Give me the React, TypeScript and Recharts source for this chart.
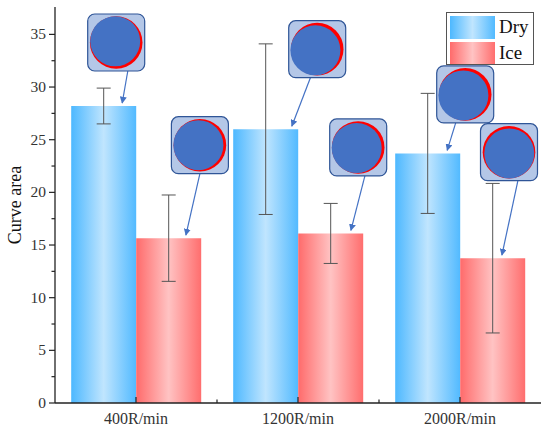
import {
    BarChart,
    Bar,
    XAxis,
    YAxis,
    ErrorBar,
    LabelList,
} from 'recharts'

const categories = ['400R/min', '1200R/min', '2000R/min']
const dryValues = [28.2, 26.0, 23.7]
const dryErrors = [1.7, 8.1, 5.7]
const iceValues = [15.65, 16.1, 13.75]
const iceErrors = [4.1, 2.85, 7.1]
const yTicks = [0, 2.5, 5, 7.5, 10, 12.5, 15, 17.5, 20, 22.5, 25, 27.5, 30, 32.5, 35]
const seriesNames = ['Dry', 'Ice']

// callout layout, pixels relative to the bar top-left
const dryCallouts = [
    { dx: 45, dy: -63.5, tipDx: 51, startDx: 11.6, bx: -1, by: -1.2 },
    { dx: 84, dy: -80, tipDx: 58.6, startDx: -6.8, bx: -1.8, by: 1.2 },
    { dx: 70, dy: -59, tipDx: 52, startDx: -9.5, bx: -1.8, by: 1 },
]
const iceCallouts = [
    { dx: 63.7, dy: -93, tipDx: 49.7, startDx: 0, bx: -1.5, by: 0 },
    { dx: 60, dy: -86, tipDx: 52.7, startDx: 6.7, bx: -1.5, by: 0.6 },
    { dx: 48.8, dy: -106, tipDx: 41.7, startDx: 8.9, bx: 0.3, by: 1.2 },
]

const data = categories.map((name, i) => ({
    name,
    dry: dryValues[i],
    dryErr: dryErrors[i],
    ice: iceValues[i],
    iceErr: iceErrors[i],
}))

const FONT = '"Liberation Serif", "Times New Roman", serif'
const AXIS = '#222'
const BOX = 57
const DRY_CSS = 'linear-gradient(to right, #4db8ff, #c0e5fe 50%, #52baff)'
const ICE_CSS = 'linear-gradient(to right, #ff6b6b, #ffc3c3 50%, #ff6e6e)'

function makeCallout(layout: typeof dryCallouts) {
    return (props: any) => {
        const vb = props.viewBox || props
        const bx = vb.x
        const by = vb.y
        const c = layout[props.index]
        if (!c || bx == null) return null
        const cx = bx + c.dx
        const cy = by + c.dy
        return (
            <g>
                <line
                    x1={cx + c.startDx}
                    y1={cy + BOX / 2}
                    x2={bx + c.tipDx}
                    y2={by - 3}
                    stroke="#4472c4"
                    strokeWidth={1.2}
                    markerEnd="url(#arrowHead)"
                />
                <rect
                    x={cx - BOX / 2}
                    y={cy - BOX / 2}
                    width={BOX}
                    height={BOX}
                    rx={7}
                    fill="#b4c7e7"
                    stroke="#2f5597"
                    strokeWidth={1.2}
                />
                <circle cx={cx} cy={cy} r={26.3} fill="#ff0000" />
                <circle cx={cx + c.bx} cy={cy + c.by} r={25} fill="#4472c4" />
            </g>
        )
    }
}

function YTick({ x, y, payload }: any) {
    const major = payload.value % 5 === 0
    return (
        <g>
            <line x1={x - (major ? 6 : 3.5)} y1={y} x2={x} y2={y} stroke={AXIS} strokeWidth={1.2} />
            {major && (
                <text x={x - 9} y={y + 5} textAnchor="end" fontSize={15.5} fontFamily={FONT} fill="#333">
                    {payload.value}
                </text>
            )}
        </g>
    )
}

function XTick({ x, y, payload, index }: any) {
    const half = payload.offset || 81
    return (
        <g>
            <line x1={x} y1={y} x2={x} y2={y - 6} stroke={AXIS} strokeWidth={1.2} />
            {index < categories.length - 1 && (
                <line x1={x + half} y1={y} x2={x + half} y2={y - 3.5} stroke={AXIS} strokeWidth={1.2} />
            )}
            <text x={x} y={y + 21} textAnchor="middle" fontSize={16} fontFamily={FONT} fill="#333">
                {payload.value}
            </text>
        </g>
    )
}

function YLabel({ viewBox }: any) {
    const cx = 15
    const cy = viewBox.y + viewBox.height / 2
    return (
        <text
            x={cx}
            y={cy}
            transform={`rotate(-90, ${cx}, ${cy})`}
            textAnchor="middle"
            dominantBaseline="central"
            fontSize={18}
            fontFamily={FONT}
            fill="#111"
        >
            Curve area
        </text>
    )
}

function LegendBox() {
    const fills = [DRY_CSS, ICE_CSS]
    return (
        <div
            style={{
                position: 'absolute',
                left: 446,
                top: 12,
                width: 88,
                height: 53,
                boxSizing: 'border-box',
                border: '1px solid #555',
                background: '#fff',
            }}
        >
            {seriesNames.map((n, i) => (
                <div key={n}>
                    <div
                        style={{
                            position: 'absolute',
                            left: 2.5,
                            top: 3 + i * 25.5,
                            width: 45,
                            height: 22.5,
                            background: fills[i],
                        }}
                    />
                    <div
                        style={{
                            position: 'absolute',
                            left: 52,
                            top: 2 + i * 25.5,
                            fontFamily: FONT,
                            fontSize: 19,
                            lineHeight: '24px',
                            color: '#111',
                        }}
                    >
                        {n}
                    </div>
                </div>
            ))}
        </div>
    )
}

export default function App() {
    return (
        <div style={{ position: 'absolute', left: 0, top: 0, width: 550, height: 431, background: '#fff' }}>
            <BarChart
                width={550}
                height={431}
                data={data}
                margin={{ top: 7, right: 9, bottom: 0, left: 0 }}
                barCategoryGap="10%"
                barGap={0}
            >
                <defs>
                    <linearGradient id="dryGrad" x1="0" y1="0" x2="1" y2="0">
                        <stop offset="0%" stopColor="#4db8ff" />
                        <stop offset="50%" stopColor="#c0e5fe" />
                        <stop offset="100%" stopColor="#52baff" />
                    </linearGradient>
                    <linearGradient id="iceGrad" x1="0" y1="0" x2="1" y2="0">
                        <stop offset="0%" stopColor="#ff6b6b" />
                        <stop offset="50%" stopColor="#ffc3c3" />
                        <stop offset="100%" stopColor="#ff6e6e" />
                    </linearGradient>
                    <marker
                        id="arrowHead"
                        viewBox="0 0 10 10"
                        refX="9"
                        refY="5"
                        markerWidth="7"
                        markerHeight="7"
                        markerUnits="userSpaceOnUse"
                        orient="auto"
                    >
                        <path d="M0,0 L10,5 L0,10 z" fill="#4472c4" />
                    </marker>
                </defs>
                <XAxis
                    dataKey="name"
                    height={28}
                    tickSize={0}
                    tickMargin={0}
                    tickLine={false}
                    tick={<XTick />}
                    axisLine={{ stroke: AXIS, strokeWidth: 1.3 }}
                />
                <XAxis
                    xAxisId="top"
                    dataKey="name"
                    orientation="top"
                    height={0}
                    tick={false}
                    tickLine={false}
                    axisLine={{ stroke: AXIS, strokeWidth: 1.3 }}
                />
                <YAxis
                    width={55}
                    domain={[0, 37.6]}
                    ticks={yTicks}
                    interval={0}
                    tickSize={0}
                    tickMargin={0}
                    tickLine={false}
                    tick={<YTick />}
                    axisLine={{ stroke: AXIS, strokeWidth: 1.3 }}
                    label={<YLabel />}
                />
                <YAxis
                    yAxisId="right"
                    orientation="right"
                    width={0}
                    domain={[0, 37.6]}
                    tick={false}
                    tickLine={false}
                    axisLine={{ stroke: AXIS, strokeWidth: 1.3 }}
                />
                <Bar dataKey="dry" name="Dry" fill="url(#dryGrad)" isAnimationActive={false}>
                    <ErrorBar dataKey="dryErr" width={7} stroke="#555" strokeWidth={1} direction="y" isAnimationActive={false} />
                    <LabelList dataKey="dry" content={makeCallout(dryCallouts)} />
                </Bar>
                <Bar dataKey="ice" name="Ice" fill="url(#iceGrad)" isAnimationActive={false}>
                    <ErrorBar dataKey="iceErr" width={7} stroke="#555" strokeWidth={1} direction="y" isAnimationActive={false} />
                    <LabelList dataKey="ice" content={makeCallout(iceCallouts)} />
                </Bar>
            </BarChart>
            <LegendBox />
        </div>
    )
}
